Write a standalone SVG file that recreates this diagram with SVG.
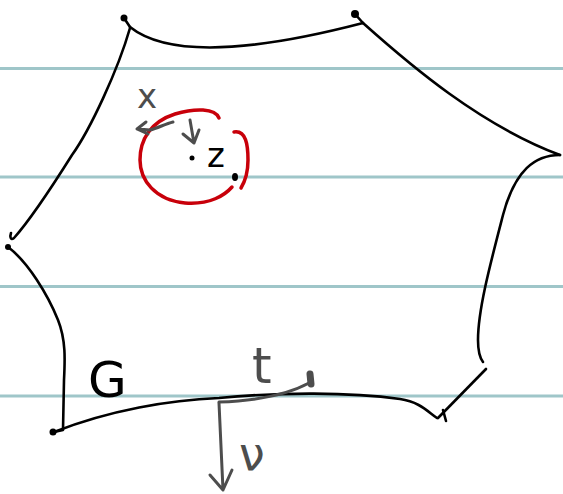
<svg xmlns="http://www.w3.org/2000/svg" width="563" height="494" viewBox="0 0 563 494">
<style>
.rule{stroke:#9fc6c9;stroke-width:3;fill:none}
.ink{stroke:#000;stroke-width:2.6;fill:none;stroke-linecap:round;stroke-linejoin:round}
.gray{stroke:#4d4d4d;stroke-width:3;fill:none;stroke-linecap:round;stroke-linejoin:round}
.blob{stroke:#4d4d4d;stroke-width:7;fill:none;stroke-linecap:round}
.red{stroke:#c8000a;stroke-width:3.5;fill:none;stroke-linecap:round;stroke-linejoin:round}
.lbl{font-family:"DejaVu Sans",sans-serif}
</style>
<rect width="563" height="494" fill="#fff"/>
<g id="rules">
<line class="rule" x1="0" y1="68.5" x2="563" y2="68.5"/>
<line class="rule" x1="0" y1="177" x2="563" y2="177"/>
<line class="rule" x1="0" y1="286.5" x2="563" y2="286.5"/>
<line class="rule" x1="0" y1="396" x2="563" y2="396"/>
</g>
<g id="domain-G">
<path class="ink" d="M130,27 C165,55 240,55 363,23"/>
<path class="ink" d="M124,18 L130,27"/>
<circle cx="124" cy="18" r="3.5" fill="#000"/>
<path class="ink" d="M355,14 L363,23"/>
<circle cx="355" cy="14" r="4" fill="#000"/>
<path class="ink" d="M363,23 C410,65 480,125 560,155"/>
<path class="ink" d="M560,155 C535,155 515,170 503,215 C490,265 478,310 478,340 C478,352 480,358 483,362"/>
<path class="ink" d="M486,369 L438,418"/>
<path class="ink" d="M443,410 L446,421"/>
<path class="ink" d="M54,432 C110,410 170,400 219,398 C280,392 350,392 400,399 C420,402 428,412 437,418"/>
<path class="ink" d="M8,247 C28,262 48,295 58,320 C66,340 65,360 64,380 L63,430 L54,432"/>
<circle cx="53" cy="432" r="3.5" fill="#000"/>
<path class="ink" d="M130,28 C118,70 90,130 72,155 C50,190 30,220 14,238 C10,241 10,236 11,233"/>
<circle cx="8" cy="247" r="3" fill="#000"/>
<text class="lbl" x="88" y="397" font-size="50" fill="#000">G</text>
</g>
<g id="disc">
<path class="red" d="M219,118 C215,108 195,108 175,114 C150,122 140,140 140,160 C140,180 155,200 185,203 C210,205 225,195 232,187"/>
<path class="red" d="M234,132 C246,130 248,145 248,160 C248,175 244,183 241,188"/>
<circle cx="192" cy="158" r="2.5" fill="#000"/>
<ellipse cx="235" cy="177" rx="3" ry="4" fill="#000"/>
<text class="lbl" x="207" y="167" font-size="34" fill="#000">z</text>
</g>
<g id="connectors">
<path class="gray" d="M173,122 C165,124 158,128 150,130 L138,129 M146,122 L137,129 L148,134"/>
<path class="gray" d="M190,120 L194,143 M183,134 L194,143 L199,130"/>
<path class="gray" d="M219,402 C250,401 285,396 309,383"/>
<path class="blob" d="M310,374 L311,384"/>
<path class="gray" d="M219,403 L223,490 M210,475 L223,490 L232,470"/>
</g>
<g id="labels">
<text class="lbl" x="137" y="108" font-size="34" fill="#4d4d4d">x</text>
<text class="lbl" x="252" y="383" font-size="50" fill="#4d4d4d">t</text>
<text class="lbl" x="239" y="470" font-size="46" fill="#4d4d4d">ν</text>
</g>
</svg>
